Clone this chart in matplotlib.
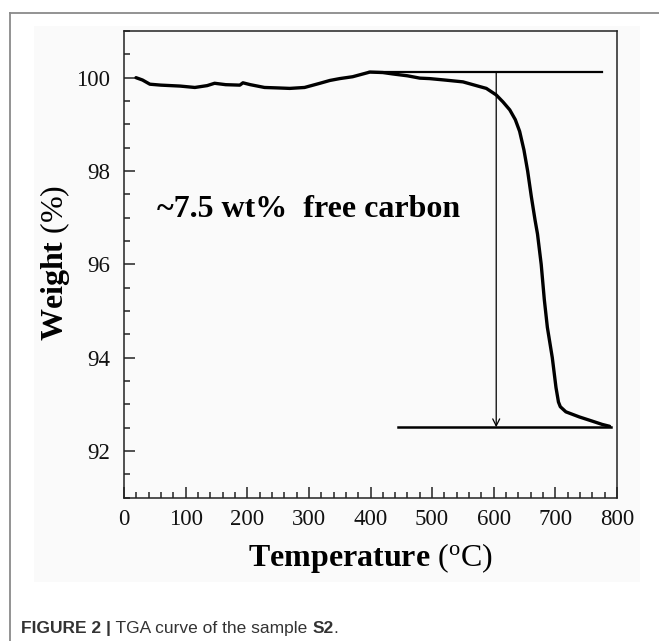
import matplotlib
matplotlib.use("Agg")
import matplotlib.pyplot as plt
from matplotlib.ticker import MultipleLocator
from matplotlib.patches import Rectangle
from matplotlib.lines import Line2D

plt.rcParams["mathtext.fontset"] = "custom"
plt.rcParams["mathtext.rm"] = "Liberation Serif"
plt.rcParams["mathtext.bf"] = "Liberation Serif:bold"
plt.rcParams["mathtext.it"] = "Liberation Serif:italic"

# ---- data ----
temperature = [19.5, 30, 42, 60, 91, 115, 135, 147, 165, 188, 193, 205, 228, 250, 269,
               293, 318, 334, 350, 371, 399, 420, 436, 460, 480, 496, 520, 550, 577,
               588, 604, 615, 626, 635, 642, 649, 655, 661, 667, 671, 677, 682, 687,
               695, 701, 705, 708, 717, 739, 760, 776, 788]
weight = [100.00, 99.95, 99.86, 99.84, 99.82, 99.79, 99.83, 99.88, 99.85, 99.84, 99.89,
          99.85, 99.79, 99.78, 99.77, 99.79, 99.88, 99.94, 99.98, 100.02, 100.12, 100.11,
          100.08, 100.04, 99.99, 99.98, 99.95, 99.91, 99.81, 99.77, 99.63, 99.48, 99.31,
          99.10, 98.85, 98.45, 98.00, 97.45, 96.95, 96.65, 96.00, 95.25, 94.65, 94.00,
          93.36, 93.05, 92.95, 92.84, 92.73, 92.64, 92.57, 92.53]

upper_level_x = [397, 775]
upper_level_y = 100.13
lower_level_x = [445, 790]
lower_level_y = 92.51
arrow_x = 604

x_ticks = [0, 100, 200, 300, 400, 500, 600, 700, 800]
y_ticks = [92, 94, 96, 98, 100]
annotation = "~7.5 wt%  free carbon"
x_label = r"$\mathbf{Temperature}$ ($^{\mathrm{o}}$C)"
y_label = r"$\mathbf{Weight}$ (%)"
caption_bold = "FIGURE 2 |"
caption_text = " TGA curve of the sample "
caption_sample = "S2"

W, H = 659, 641
fig = plt.figure(figsize=(W / 100, H / 100), dpi=100)
fig.patch.set_facecolor("white")

# outer frame (left + top)
fig.add_artist(Line2D([10 / W, 10 / W], [0, 1 - 13 / H], transform=fig.transFigure,
                      color="#8a8a8a", lw=1.3))
fig.add_artist(Line2D([10 / W, 1], [1 - 13 / H, 1 - 13 / H], transform=fig.transFigure,
                      color="#8a8a8a", lw=1.3))
# light panel behind the chart
fig.add_artist(Rectangle((34 / W, 1 - 582 / H), (640 - 34) / W, (582 - 26) / H,
                         transform=fig.transFigure, facecolor="#fafafa",
                         edgecolor="none", zorder=0))

ax = fig.add_axes([124 / W, 1 - 497.7 / H, (617 - 124) / W, (497.7 - 31) / H])
ax.set_facecolor("#fafafa")
ax.set_zorder(1)

ax.plot(temperature, weight, color="black", lw=2.4, solid_capstyle="round", zorder=3)
ax.plot(upper_level_x, [upper_level_y] * 2, color="black", lw=1.6, zorder=2)
ax.plot(lower_level_x, [lower_level_y] * 2, color="black", lw=1.8, zorder=2)
ax.annotate("", xy=(arrow_x, lower_level_y), xytext=(arrow_x, upper_level_y),
            arrowprops=dict(arrowstyle="->,head_length=0.5,head_width=0.25",
                            color="black", lw=0.9, shrinkA=0, shrinkB=0), zorder=2)

ax.set_xlim(0, 800)
ax.set_ylim(91, 101)
ax.set_xticks(x_ticks)
ax.set_yticks(y_ticks)
ax.xaxis.set_minor_locator(MultipleLocator(20))
ax.yaxis.set_minor_locator(MultipleLocator(0.5))
ax.tick_params(which="both", direction="in", top=False, right=False, color="#222222")
ax.tick_params(which="major", length=8, width=1.1)
ax.tick_params(which="minor", length=4.5, width=1.1)
ax.tick_params(axis="y", which="major", pad=10)
ax.tick_params(axis="x", which="major", pad=8)
for lab in ax.get_xticklabels() + ax.get_yticklabels():
    lab.set_fontfamily("Liberation Serif")
    lab.set_fontsize(16.5)
    lab.set_color("#111111")
for sp in ax.spines.values():
    sp.set_linewidth(1.1)
    sp.set_color("#222222")

fig.text(157 / W, 1 - 217 / H, annotation,
         fontfamily="Liberation Serif", fontweight="bold", fontsize=23,
         ha="left", va="baseline")

fig.text(0.5 * (124 + 617) / W, 1 - 558 / H, x_label,
         fontfamily="Liberation Serif", fontsize=23, ha="center", va="center")
fig.text(55 / W, 1 - 263 / H, y_label, fontfamily="Liberation Serif",
         fontsize=23, rotation=90, ha="center", va="center")

# caption
cy = 1 - 633 / H
kw = dict(fontfamily="Liberation Sans", fontsize=12.5, color="#333333", va="baseline")
t1 = fig.text(21 / W, cy, caption_bold, fontweight="bold", **kw)
fig.canvas.draw()
r = fig.canvas.get_renderer()
bb = t1.get_window_extent(r)
t2 = fig.text(bb.x1 / W, cy, caption_text, **kw)
bb2 = t2.get_window_extent(r)
t3 = fig.text(bb2.x1 / W, cy, caption_sample, fontweight="bold", **kw)
bb3 = t3.get_window_extent(r)
fig.text(bb3.x1 / W, cy, ".", **kw)

fig.savefig("out.png", dpi=100)
